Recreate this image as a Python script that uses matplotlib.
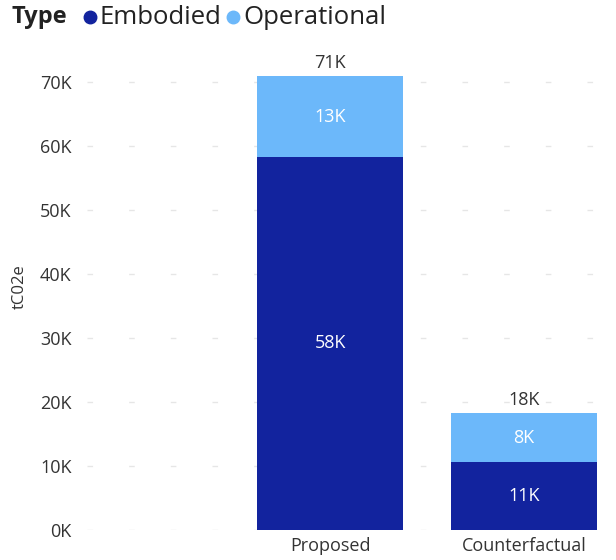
import matplotlib
matplotlib.use('Agg')
import matplotlib.pyplot as plt
import numpy as np
from matplotlib.ticker import FuncFormatter
from matplotlib.lines import Line2D

plt.rcParams['font.family'] = ['Open Sans', 'DejaVu Sans']

# emissions by scenario (tCO2e)
categories = ['Proposed', 'Counterfactual']
embodied = [58300, 10600]
operational = [12600, 7700]
y_ticks = [0, 10000, 20000, 30000, 40000, 50000, 60000, 70000]

DARK = '#12239E'
LIGHT = '#6CB8FA'
TEXT = '#333333'

fig = plt.figure(figsize=(6.16, 5.6), dpi=100)
ax = fig.add_axes([87 / 616, 30 / 560, 529 / 616, 480 / 560])

x = np.arange(len(categories))
width = 0.753
emb = np.array(embodied)
ops = np.array(operational)
total = emb + ops

ax.bar(x, emb, width, color=DARK, zorder=2)
ax.bar(x, ops, width, bottom=emb, color=LIGHT, zorder=2)

def kfmt(v):
    return '{:.0f}K'.format(v / 1000)

for xi, e, o, t in zip(x, emb, ops, total):
    ax.text(xi, e / 2, kfmt(e), ha='center', va='center', color='white', fontsize=13)
    ax.text(xi, e + o / 2, kfmt(o), ha='center', va='center', color='white', fontsize=13)
    ax.text(xi, t + 600, kfmt(t), ha='center', va='bottom', color=TEXT, fontsize=13)

ax.set_xlim(-1.253, 1.474)
ax.set_ylim(0, 75000)
ax.set_yticks(y_ticks)
ax.yaxis.set_major_formatter(FuncFormatter(lambda v, p: kfmt(v)))
ax.set_xticks(x)
ax.set_xticklabels(categories)
ax.tick_params(axis='y', length=0, pad=11, labelsize=13, labelcolor=TEXT)
ax.tick_params(axis='x', length=0, pad=5, labelsize=13, labelcolor=TEXT)
for s in ax.spines.values():
    s.set_visible(False)
ax.yaxis.grid(True, color='#e6e6e6', linewidth=1, linestyle=(0, (4, 26)), zorder=0)

fig.text(20 / 616, 1 - 287 / 560, 'tC02e', rotation=90, ha='center', va='center',
         fontsize=12, color=TEXT)

# legend across the top
ly = 1 - 17 / 560
fig.text(12 / 616, ly, 'Type', ha='left', va='center', fontsize=17, fontweight='bold', color='#222222')
fig.add_artist(Line2D([90 / 616], [ly], marker='o', markersize=9, color=DARK, transform=fig.transFigure))
fig.text(100 / 616, ly, 'Embodied', ha='left', va='center', fontsize=18.5, color='#222222')
fig.add_artist(Line2D([233 / 616], [ly], marker='o', markersize=9, color=LIGHT, transform=fig.transFigure))
fig.text(243 / 616, ly, 'Operational', ha='left', va='center', fontsize=18.5, color='#222222')

fig.savefig('out.png', dpi=100)
